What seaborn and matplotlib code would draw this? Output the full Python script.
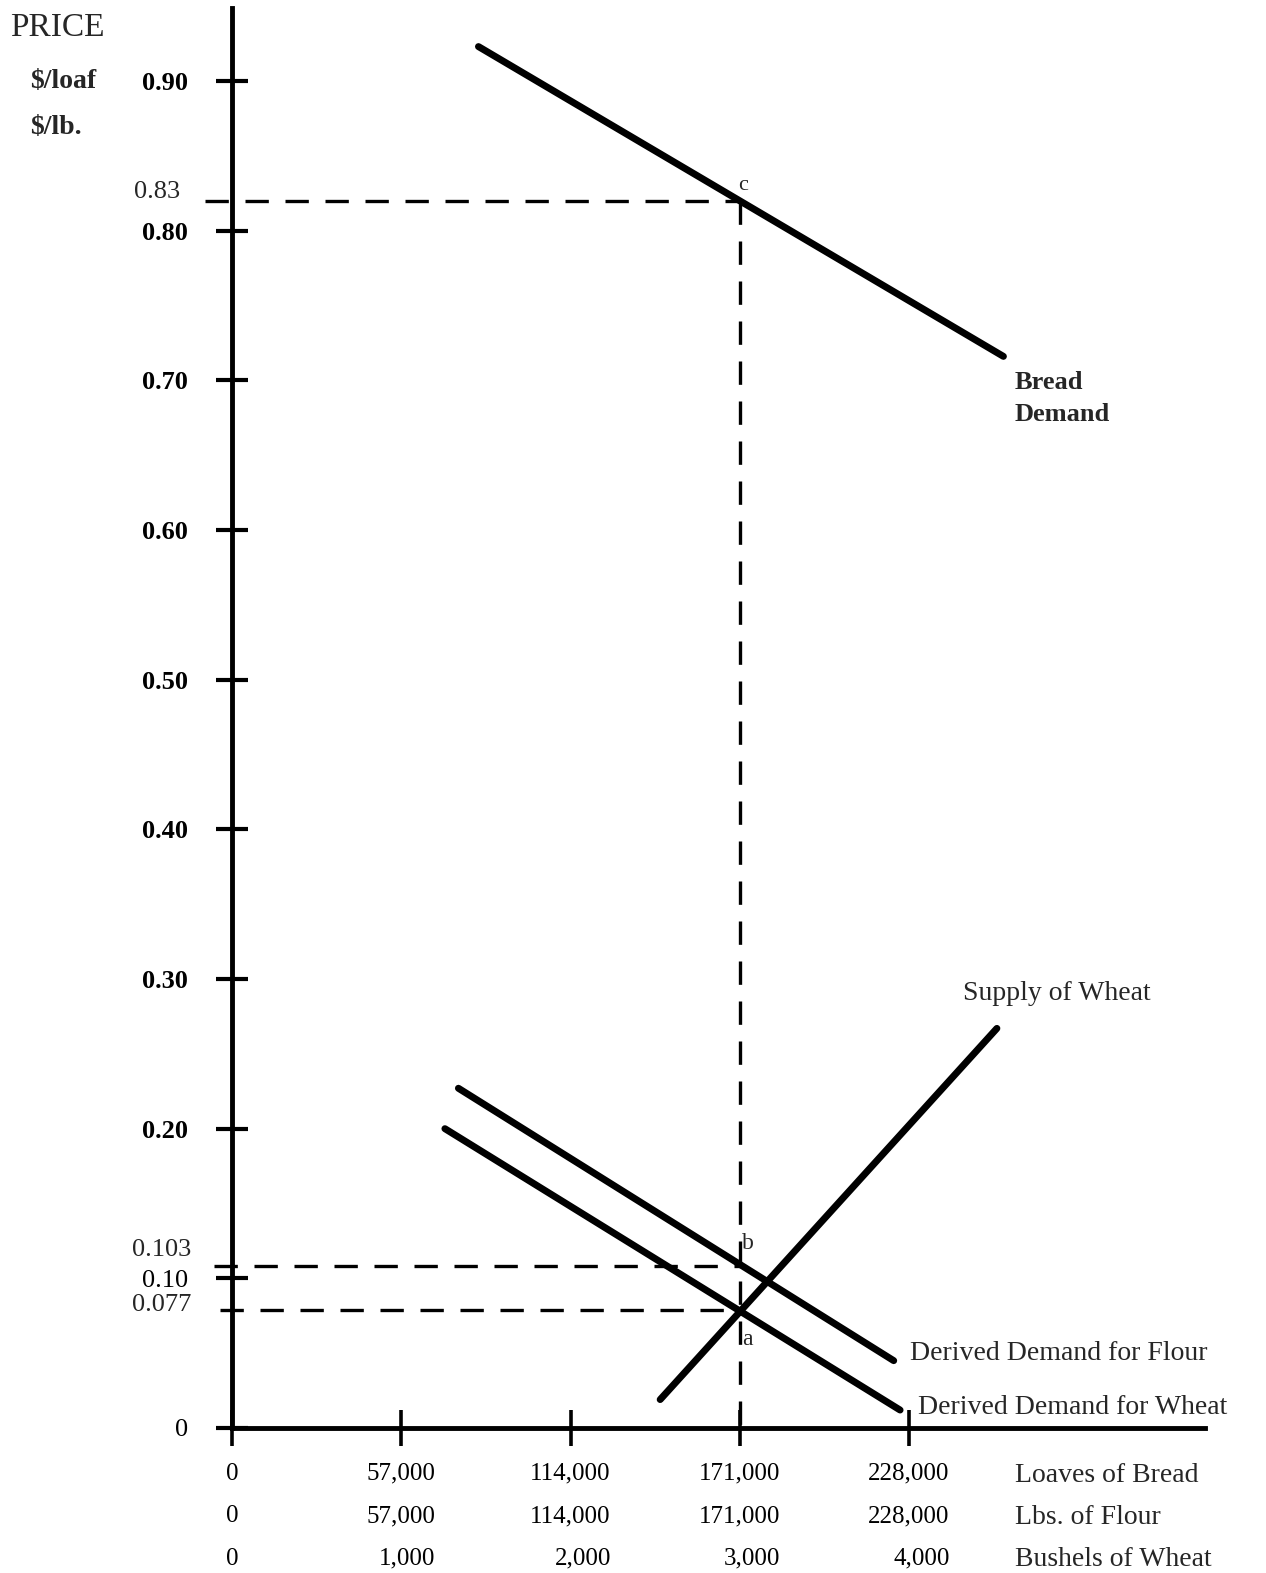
import matplotlib
matplotlib.use("Agg")
import matplotlib.pyplot as plt
import pandas as pd
import seaborn as sns

# ---------------- data ----------------
qty_ticks = [0, 57000, 114000, 171000, 228000]
loaves_labels = ["0", "57,000", "114,000", "171,000", "228,000"]
flour_labels = ["0", "57,000", "114,000", "171,000", "228,000"]
bushel_labels = ["0", "1,000", "2,000", "3,000", "4,000"]
row_names = ["Loaves of Bread", "Lbs. of Flour", "Bushels of Wheat"]

price_ticks = [0, 0.1, 0.2, 0.3, 0.4, 0.5, 0.6, 0.7, 0.8, 0.9]
price_labels = ["0", "0.10", "0.20", "0.30", "0.40", "0.50", "0.60", "0.70", "0.80", "0.90"]

bread_q = [83000, 259800]
bread_p = [0.923, 0.716]
supply_q = [144200, 257600]
supply_p = [0.019, 0.267]
flour_q = [76250, 222850]
flour_p = [0.227, 0.045]
wheatd_q = [71700, 225000]
wheatd_p = [0.200, 0.012]

eq_q = 171000
price_c = 0.82   # drawn level of the "0.83" guide
price_b = 0.108  # drawn level of the "0.103" guide
price_a = 0.079  # drawn level of the "0.077" guide

# ---------------- style ----------------
sns.set_style("white")
plt.rcParams["font.family"] = ["Liberation Serif", "DejaVu Serif"]

fig = plt.figure(figsize=(12.66, 15.73), dpi=100)
ax = fig.add_axes([232 / 1266, (1573 - 1428) / 1573, (1205 - 232) / 1266, (1428 - 8) / 1573])

curve_kw = dict(color="black", linewidth=5, estimator=None, sort=False,
                solid_capstyle="round", legend=False)
for q, p in [(bread_q, bread_p), (supply_q, supply_p), (flour_q, flour_p), (wheatd_q, wheatd_p)]:
    sns.lineplot(data=pd.DataFrame({"q": q, "p": p}), x="q", y="p", ax=ax, **curve_kw)

guide_kw = dict(color="black", linewidth=2.4, estimator=None, sort=False, legend=False)
guides = [
    ([-9000, eq_q], [price_c, price_c]),
    ([eq_q, eq_q], [price_c, 0]),
    ([-6000, eq_q], [price_b, price_b]),
    ([-4000, eq_q], [price_a, price_a]),
]
for q, p in guides:
    sns.lineplot(data=pd.DataFrame({"q": q, "p": p}), x="q", y="p", ax=ax, **guide_kw)
    ln = ax.lines[-1]
    ln.set_dashes([7, 5])
    ln.set_clip_on(False)

ax.set_xlim(0, 973 / (677 / 228000))
ax.set_ylim(0, 1420 / (1347 / 0.9))
ax.set_xlabel("")
ax.set_ylabel("")

for s in ["top", "right"]:
    ax.spines[s].set_visible(False)
for s in ["left", "bottom"]:
    ax.spines[s].set_linewidth(3.5)
    ax.spines[s].set_color("black")

# x ticks with three rows of labels
ax.set_xticks(qty_ticks)
ax.set_xticklabels([f"{a}\n{b}\n{c}" for a, b, c in zip(loaves_labels, flour_labels, bushel_labels)])
ax.tick_params(axis="x", bottom=True, direction="inout", length=26, width=2.6, pad=12,
               labelsize=18, colors="black")
for lbl in ax.get_xticklabels():
    lbl.set_multialignment("right")
    lbl.set_linespacing(2.2)

# y ticks
ax.set_yticks(price_ticks)
ax.set_yticklabels(price_labels)
ax.tick_params(axis="y", left=True, direction="inout", length=23, width=3, pad=20,
               labelsize=19, colors="black")
for lbl in ax.get_yticklabels():
    if lbl.get_text() not in ("0", "0.10"):
        lbl.set_fontweight("bold")

# special price labels
ytr = ax.get_yaxis_transform()
ax.text(-0.053, 0.826, "0.83", transform=ytr, ha="right", va="center", fontsize=19)
ax.text(-0.042, 0.119, "0.103", transform=ytr, ha="right", va="center", fontsize=19)
ax.text(-0.042, 0.082, "0.077", transform=ytr, ha="right", va="center", fontsize=19)

# row names on the right of the quantity axis
xtr = ax.get_xaxis_transform()
for i, name in enumerate(row_names):
    ax.text(263700, -0.0331 - i * 0.0296, name, transform=xtr, ha="left", va="center", fontsize=20)

# curve labels
ax.text(263700, 0.706, "Bread\nDemand", ha="left", va="top", fontsize=19, fontweight="bold",
        linespacing=1.5)
ax.text(246200, 0.2906, "Supply of Wheat", ha="left", va="center", fontsize=20)
ax.text(228300, 0.0501, "Derived Demand for Flour", ha="left", va="center", fontsize=20)
ax.text(231000, 0.014, "Derived Demand for Wheat", ha="left", va="center", fontsize=20)

# point labels
ax.text(172000, 0.8305, "c", ha="center", va="center", fontsize=16)
ax.text(173800, 0.1236, "b", ha="center", va="center", fontsize=17)
ax.text(173400, 0.0588, "a", ha="center", va="center", fontsize=17)

# axis title texts
fig.text(10 / 1266, 1 - 28 / 1573, "PRICE", ha="left", va="center", fontsize=24)
fig.text(30 / 1266, 1 - 82 / 1573, "$/loaf", ha="left", va="center", fontsize=20, fontweight="bold")
fig.text(30 / 1266, 1 - 128 / 1573, "$/lb.", ha="left", va="center", fontsize=20, fontweight="bold")

fig.savefig("out.png", dpi=100)
